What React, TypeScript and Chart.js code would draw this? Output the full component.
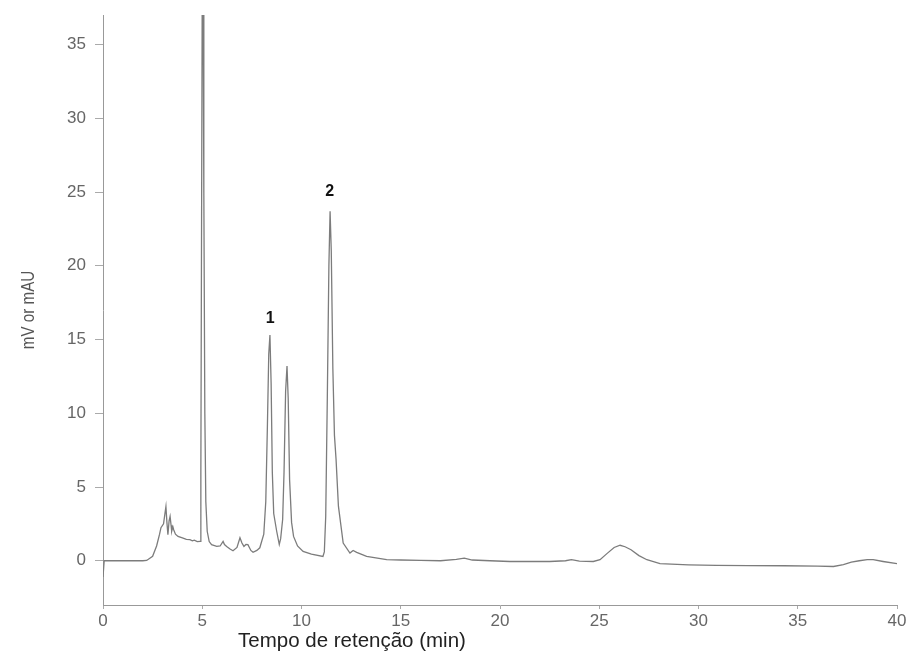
import React, { useEffect, useRef } from "react";
import { Chart, registerables } from "chart.js";

Chart.register(...registerables);

const retentionTimes = [
  0, 0.02, 0.06, 1, 2, 2.2, 2.5, 2.7, 2.85, 2.92, 3.05, 3.12, 3.17, 3.22, 3.27, 3.33, 3.38, 3.43, 3.46, 3.52, 3.56, 3.65, 3.78, 4.0, 4.2, 4.38, 4.5, 4.6, 4.75, 4.89,
  4.93, 4.97, 5.0, 5.04, 5.08, 5.13, 5.18, 5.25, 5.35, 5.47,
  5.73, 5.9, 6.05, 6.12, 6.23, 6.4, 6.55, 6.75, 6.9, 7.0, 7.1, 7.2, 7.3, 7.45, 7.56, 7.75, 7.9,
  8.1, 8.2, 8.28, 8.35, 8.41, 8.47, 8.53, 8.6, 8.75, 8.88,
  8.95, 9.05, 9.12, 9.2, 9.27, 9.33, 9.4, 9.5, 9.6, 9.8, 10.08, 10.5, 11.08,
  11.15, 11.22, 11.3, 11.38, 11.44, 11.5, 11.58, 11.66, 11.74, 11.86, 12.1, 12.44, 12.6, 12.78, 13.28, 14.29,
  15, 16, 17, 17.8, 18.2, 18.6, 19.5, 20.5, 21.5, 22.5, 23.3, 23.6, 24, 24.7, 25.04, 25.4, 25.75, 26.05, 26.3, 26.6, 27.0, 27.4, 28.06,
  29.5, 30.9, 32.5, 34.3, 36, 36.8, 37.3, 37.7, 38.1, 38.5, 38.8, 39.3, 40,
];

const signal = [
  -1.1, -1.1, 0, 0, 0, 0.02, 0.3, 1.0, 1.8, 2.24, 2.5, 3.2, 3.67, 2.6, 1.77, 2.7, 3.0, 2.4, 2.0, 2.3, 2.1, 1.8, 1.65, 1.55, 1.45, 1.43, 1.35, 1.4, 1.3, 1.31,
  6, 25, 39, 39, 25, 10, 4, 2, 1.3, 1.09,
  0.97, 1.0, 1.31, 1.1, 0.97, 0.8, 0.68, 0.9, 1.56, 1.2, 0.97, 1.1, 1.09, 0.7, 0.57, 0.7, 0.88,
  1.8, 4, 9, 14, 15.3, 12, 6, 3.2, 2.0, 1.1,
  1.5, 2.8, 6, 11.5, 13.2, 11, 5.5, 2.6, 1.65, 1.0, 0.63, 0.45, 0.29,
  0.6, 3, 11, 20, 23.7, 21, 13, 8.5, 6.9, 3.7, 1.2, 0.52, 0.7, 0.57, 0.29, 0.07,
  0.05, 0.02, 0.0, 0.1, 0.18, 0.05, 0.0, -0.05, -0.05, -0.05, 0.0, 0.08, -0.02, -0.05, 0.07, 0.5, 0.9, 1.05, 0.95, 0.75, 0.35, 0.07, -0.2,
  -0.28, -0.32, -0.33, -0.34, -0.37, -0.39, -0.27, -0.1, 0.0, 0.07, 0.07, -0.05, -0.2,
];

const yTickValues = [0, 5, 10, 15, 20, 25, 30, 35];
const peakLabels = ["1", "2"];
const peakLabelTimes = [8.42, 11.42];
const peakLabelHeights = [16.4, 25.0];
const xAxisTitle = "Tempo de retenção (min)";
const yAxisTitle = "mV or mAU";

const FONT = "'Liberation Sans', Arial, sans-serif";

const annotationPlugin = {
  id: "annotations",
  afterDraw(chart: any) {
    const { ctx, scales, chartArea } = chart;
    ctx.save();
    ctx.fillStyle = "#111";
    ctx.font = `bold 16px ${FONT}`;
    ctx.textAlign = "center";
    ctx.textBaseline = "middle";
    peakLabels.forEach((lab, i) => {
      ctx.fillText(lab, scales.x.getPixelForValue(peakLabelTimes[i]), scales.y.getPixelForValue(peakLabelHeights[i]));
    });
    // x axis title
    ctx.fillStyle = "#222";
    ctx.font = `20.5px ${FONT}`;
    ctx.textAlign = "left";
    ctx.textBaseline = "alphabetic";
    ctx.fillText(xAxisTitle, scales.x.left + 135, chartArea.bottom + 42);
    // y axis title (condensed)
    ctx.save();
    ctx.translate(29, (chartArea.top + chartArea.bottom) / 2);
    ctx.rotate(-Math.PI / 2);
    ctx.scale(0.8, 1);
    ctx.fillStyle = "#555";
    ctx.font = `19px ${FONT}`;
    ctx.textAlign = "center";
    ctx.textBaseline = "middle";
    ctx.fillText(yAxisTitle, 0, 0);
    ctx.restore();
    ctx.restore();
  },
};

export default function App() {
  const ref = useRef<HTMLCanvasElement | null>(null);
  useEffect(() => {
    if (!ref.current) return;
    const chart = new Chart(ref.current, {
      type: "line",
      data: {
        datasets: [
          {
            data: retentionTimes.map((t, i) => ({ x: t, y: signal[i] })),
            borderColor: "#7c7c7c",
            borderWidth: 1.3,
            pointRadius: 0,
            tension: 0,
            fill: false,
          },
        ],
      },
      options: {
        animation: false,
        responsive: false,
        maintainAspectRatio: false,
        layout: { padding: { left: 0, top: 15, right: 20, bottom: 0 } },
        plugins: { legend: { display: false }, tooltip: { enabled: false } },
        scales: {
          x: {
            type: "linear",
            min: 0,
            max: 40,
            ticks: { stepSize: 5, color: "#666", font: { size: 17, family: FONT }, padding: 2, maxRotation: 0 },
            grid: { drawOnChartArea: false, drawTicks: true, tickLength: 4, color: "#aaa" },
            border: { color: "#999", width: 1 },
            afterFit: (s: any) => { s.height = 47; s.paddingLeft = 0; s.paddingRight = 0; },
          },
          y: {
            type: "linear",
            min: -3,
            max: 37,
            afterBuildTicks: (s: any) => { s.ticks = yTickValues.map((v) => ({ value: v })); },
            ticks: { color: "#666", font: { size: 17, family: FONT }, padding: 9 },
            grid: { drawOnChartArea: false, drawTicks: true, tickLength: 8, color: "#aaa" },
            border: { color: "#999", width: 1 },
            title: { display: false, text: yAxisTitle },
            afterFit: (s: any) => { s.width = 103; s.paddingTop = 0; s.paddingBottom = 0; },
          },
        },
      },
      plugins: [annotationPlugin],
    });
    return () => chart.destroy();
  }, []);
  return (
    <div style={{ position: "fixed", left: 0, top: 0, width: 917, height: 652, background: "#fff" }}>
      <canvas ref={ref} width={917} height={652} />
    </div>
  );
}
